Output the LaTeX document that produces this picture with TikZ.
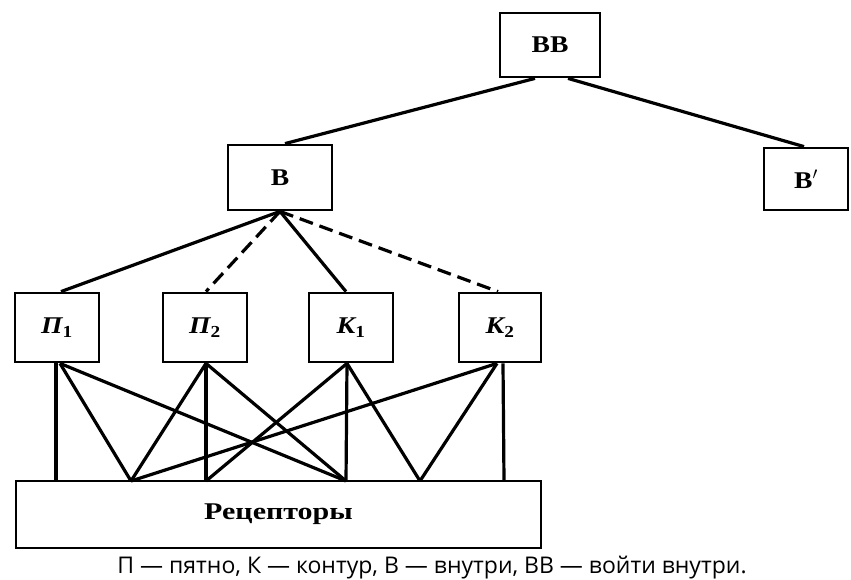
\documentclass[tikz,border=0pt]{standalone}
\usepackage{fontspec}
\setmainfont{Liberation Serif}
\newfontfamily\capfont{Open Sans}
\newfontfamily\lblfont[FakeStretch=1.15]{Liberation Serif}
\newfontfamily\recfont[FakeStretch=1.25]{Liberation Serif}
\begin{document}
\begin{tikzpicture}[x=1pt,y=-1pt,
  box/.style={draw, line width=2.8pt, inner sep=0pt, font=\lblfont\fontsize{24}{28}\selectfont\bfseries},
  conn/.style={line width=3.2pt},
  dconn/.style={line width=3.2pt, dash pattern=on 14pt off 7pt}]
\useasboundingbox (0,0) rectangle (851,580);
\node[box, minimum width=100pt, minimum height=64pt] (bb) at (550,45) {ВВ};
\node[box, minimum width=104pt, minimum height=65pt] (b) at (280,177.5) {В};
\node[box, minimum width=84pt, minimum height=62pt] (bp) at (806,179) {В$'$};
\node[box, minimum width=84pt, minimum height=69pt] (p1) at (57,327.5) {\itshape П\textsubscript{\upshape 1}};
\node[box, minimum width=84pt, minimum height=69pt] (p2) at (205,327.5) {\itshape П\textsubscript{\upshape 2}};
\node[box, minimum width=84pt, minimum height=69pt] (k1) at (351,327.5) {\itshape К\textsubscript{\upshape 1}};
\node[box, minimum width=82pt, minimum height=69pt] (k2) at (500,327.5) {\itshape К\textsubscript{\upshape 2}};
\node[box, minimum width=525pt, minimum height=67pt, font=\recfont\fontsize{24}{28}\selectfont\bfseries] (rec) at (278.5,514.5) {Рецепторы};
\coordinate (r1) at (56,481);
\coordinate (r2) at (131,481);
\coordinate (r3) at (206,481);
\coordinate (r4) at (346,481);
\coordinate (r5) at (420,481);
\coordinate (r6) at (504,481);
% top level
\draw[conn] ([xshift=-15pt]bb.south) -- ([xshift=5pt]b.north);
\draw[conn] ([xshift=18pt]bb.south) -- ([xshift=-2pt]bp.north);
% B to features
\draw[conn] (b.south) -- ([xshift=4pt]p1.north);
\draw[dconn] (b.south) -- ([xshift=1pt]p2.north);
\draw[conn] (b.south) -- ([xshift=-5pt]k1.north);
\draw[dconn] (b.south) -- ([xshift=-2pt]k2.north);
% features to receptors
\draw[conn] ([xshift=-1pt]p1.south) -- (r1);
\draw[conn] ([xshift=3pt]p1.south) -- (r2);
\draw[conn] ([xshift=3pt]p1.south) -- (r4);
\draw[conn] ([xshift=1pt]p2.south) -- (r2);
\draw[conn] ([xshift=1pt]p2.south) -- (r3);
\draw[conn] ([xshift=1pt]p2.south) -- (r4);
\draw[conn] ([xshift=-4pt]k1.south) -- (r3);
\draw[conn] ([xshift=-4pt]k1.south) -- (r4);
\draw[conn] ([xshift=-4pt]k1.south) -- (r5);
\draw[conn] ([xshift=-3pt]k2.south) -- (r2);
\draw[conn] ([xshift=-3pt]k2.south) -- (r5);
\draw[conn] ([xshift=3pt]k2.south) -- (r6);
\node[font=\capfont\fontsize{23}{26}\selectfont, anchor=base, inner sep=0pt] (cap) at (432,573) {П — пятно, К — контур, В — внутри, ВВ — войти внутри.};
\end{tikzpicture}
\end{document}
